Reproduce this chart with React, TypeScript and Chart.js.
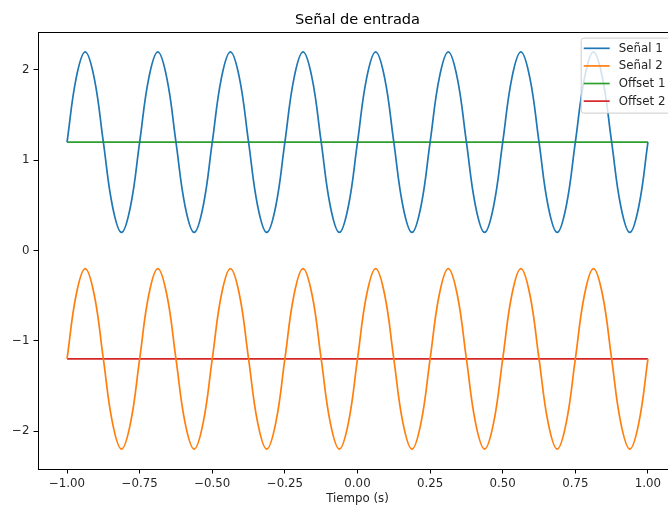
import React, { useEffect, useRef } from "react";
import { Chart, registerables } from "chart.js";

Chart.register(...registerables);

const time = [
  -1, -0.96875, -0.9375, -0.90625, -0.875, -0.84375, -0.8125, -0.78125,
  -0.75, -0.71875, -0.6875, -0.65625, -0.625, -0.59375, -0.5625, -0.53125,
  -0.5, -0.46875, -0.4375, -0.40625, -0.375, -0.34375, -0.3125, -0.28125,
  -0.25, -0.21875, -0.1875, -0.15625, -0.125, -0.09375, -0.0625, -0.03125,
  0, 0.03125, 0.0625, 0.09375, 0.125, 0.15625, 0.1875, 0.21875,
  0.25, 0.28125, 0.3125, 0.34375, 0.375, 0.40625, 0.4375, 0.46875,
  0.5, 0.53125, 0.5625, 0.59375, 0.625, 0.65625, 0.6875, 0.71875,
  0.75, 0.78125, 0.8125, 0.84375, 0.875, 0.90625, 0.9375, 0.96875,
  1,
];

const senal1 = [
  1.2, 1.907, 2.2, 1.907, 1.2, 0.493, 0.2, 0.493,
  1.2, 1.907, 2.2, 1.907, 1.2, 0.493, 0.2, 0.493,
  1.2, 1.907, 2.2, 1.907, 1.2, 0.493, 0.2, 0.493,
  1.2, 1.907, 2.2, 1.907, 1.2, 0.493, 0.2, 0.493,
  1.2, 1.907, 2.2, 1.907, 1.2, 0.493, 0.2, 0.493,
  1.2, 1.907, 2.2, 1.907, 1.2, 0.493, 0.2, 0.493,
  1.2, 1.907, 2.2, 1.907, 1.2, 0.493, 0.2, 0.493,
  1.2, 1.907, 2.2, 1.907, 1.2, 0.493, 0.2, 0.493,
  1.2,
];

const senal2 = [
  -1.2, -0.493, -0.2, -0.493, -1.2, -1.907, -2.2, -1.907,
  -1.2, -0.493, -0.2, -0.493, -1.2, -1.907, -2.2, -1.907,
  -1.2, -0.493, -0.2, -0.493, -1.2, -1.907, -2.2, -1.907,
  -1.2, -0.493, -0.2, -0.493, -1.2, -1.907, -2.2, -1.907,
  -1.2, -0.493, -0.2, -0.493, -1.2, -1.907, -2.2, -1.907,
  -1.2, -0.493, -0.2, -0.493, -1.2, -1.907, -2.2, -1.907,
  -1.2, -0.493, -0.2, -0.493, -1.2, -1.907, -2.2, -1.907,
  -1.2, -0.493, -0.2, -0.493, -1.2, -1.907, -2.2, -1.907,
  -1.2,
];

const offsetTime = [-1, 1];
const offset1 = [1.2, 1.2];
const offset2 = [-1.2, -1.2];

const seriesLabels = ["Señal 1", "Señal 2", "Offset 1", "Offset 2"];
const seriesColors = ["#1f77b4", "#ff7f0e", "#2ca02c", "#d62728"];

const xTicks = [-1, -0.75, -0.5, -0.25, 0, 0.25, 0.5, 0.75, 1];
const xTickLabels = ["\u22121.00", "\u22120.75", "\u22120.50", "\u22120.25", "0.00", "0.25", "0.50", "0.75", "1.00"];
const yTicks = [-2, -1, 0, 1, 2];
const yTickLabels = ["\u22122", "\u22121", "0", "1", "2"];

const FONT = "'DejaVu Sans', sans-serif";
const TEXT = "#262626";
const FS = 11.8;

const pts = (xs: number[], ys: number[]) => xs.map((x, i) => ({ x, y: ys[i] }));

const framePlugin = {
  id: "frameAndLegend",
  afterDatasetsDraw(chart: any) {
    const ctx = chart.ctx;
    const a = chart.chartArea;
    ctx.save();
    ctx.strokeStyle = "#000";
    ctx.lineWidth = 1;
    ctx.strokeRect(Math.round(a.left) + 0.5, Math.round(a.top) + 0.5, Math.round(a.right - a.left), Math.round(a.bottom - a.top));
    ctx.font = `${FS}px ${FONT}`;
    const ds = chart.data.datasets;
    const maxW = Math.max(...ds.map((d: any) => ctx.measureText(d.label).width));
    const right = a.right - 5.6;
    const top = a.top + 5.6;
    const width = 38 + maxW + 6;
    const left = right - width;
    const height = 75;
    ctx.beginPath();
    if ((ctx as any).roundRect) (ctx as any).roundRect(left + 0.5, top + 0.5, width, height, 2.5);
    else ctx.rect(left + 0.5, top + 0.5, width, height);
    ctx.fillStyle = "rgba(255,255,255,0.8)";
    ctx.fill();
    ctx.strokeStyle = "#cccccc";
    ctx.lineWidth = 1;
    ctx.stroke();
    ds.forEach((d: any, i: number) => {
      const y = top + 10.7 + i * 17.6;
      ctx.beginPath();
      ctx.moveTo(left + 3, y);
      ctx.lineTo(left + 29, y);
      ctx.strokeStyle = d.borderColor;
      ctx.lineWidth = 1.7;
      ctx.stroke();
      ctx.fillStyle = TEXT;
      ctx.textAlign = "left";
      ctx.textBaseline = "middle";
      ctx.fillText(d.label, left + 38, y + 0.5);
    });
    ctx.restore();
  },
};

export default function App() {
  const ref = useRef<HTMLCanvasElement | null>(null);

  useEffect(() => {
    if (!ref.current) return;
    const lineDs = (label: string, color: string, data: any[]) => ({
      label,
      data,
      borderColor: color,
      backgroundColor: color,
      borderWidth: 1.7,
      pointRadius: 0,
      tension: 0.4,
      fill: false,
    });
    const chart = new Chart(ref.current, {
      type: "line",
      data: {
        datasets: [
          lineDs(seriesLabels[0], seriesColors[0], pts(time, senal1)),
          lineDs(seriesLabels[1], seriesColors[1], pts(time, senal2)),
          lineDs(seriesLabels[2], seriesColors[2], pts(offsetTime, offset1)),
          lineDs(seriesLabels[3], seriesColors[3], pts(offsetTime, offset2)),
        ],
      },
      options: {
        responsive: false,
        devicePixelRatio: 1,
        animation: false,
        layout: { padding: { left: 0, right: 23, top: 0, bottom: 0 } },
        plugins: {
          legend: { display: false },
          tooltip: { enabled: false },
          title: {
            display: true,
            text: "Señal de entrada",
            fullSize: false,
            color: "#000",
            font: { family: FONT, size: 14.6, weight: "normal" as any, lineHeight: 1.2 },
            padding: { top: 11.5, bottom: 3 },
          },
        },
        scales: {
          x: {
            type: "linear",
            min: -1.1,
            max: 1.1,
            afterBuildTicks: (axis: any) => {
              axis.ticks = xTicks.map((v) => ({ value: v }));
            },
            afterFit: (axis: any) => {
              axis.height = 38;
            },
            border: { display: false },
            grid: { display: true, drawOnChartArea: false, drawTicks: true, tickLength: 4.5, color: "#000", lineWidth: 1 },
            ticks: {
              autoSkip: false,
              maxRotation: 0,
              padding: 3,
              color: TEXT,
              font: { family: FONT, size: FS },
              callback: (v: any) => xTickLabels[xTicks.indexOf(Number(v))] ?? "",
            },
            title: {
              display: true,
              text: "Tiempo (s)",
              color: TEXT,
              font: { family: FONT, size: FS },
              padding: { top: 0, bottom: 0.5 },
            },
          },
          y: {
            type: "linear",
            min: -2.42,
            max: 2.42,
            afterBuildTicks: (axis: any) => {
              axis.ticks = yTicks.map((v) => ({ value: v }));
            },
            afterFit: (axis: any) => {
              axis.width = 38;
            },
            border: { display: false },
            grid: { display: true, drawOnChartArea: false, drawTicks: true, tickLength: 4.5, color: "#000", lineWidth: 1 },
            ticks: {
              autoSkip: false,
              padding: 4,
              color: TEXT,
              font: { family: FONT, size: FS },
              callback: (v: any) => yTickLabels[yTicks.indexOf(Number(v))] ?? "",
            },
          },
        },
      },
      plugins: [framePlugin],
    } as any);
    return () => chart.destroy();
  }, []);

  return (
    <div style={{ position: "fixed", left: 0, top: 0, width: 668, height: 507, overflow: "hidden", background: "#fff" }}>
      <canvas ref={ref} width={700} height={507} style={{ display: "block", width: 700, height: 507 }} />
    </div>
  );
}
